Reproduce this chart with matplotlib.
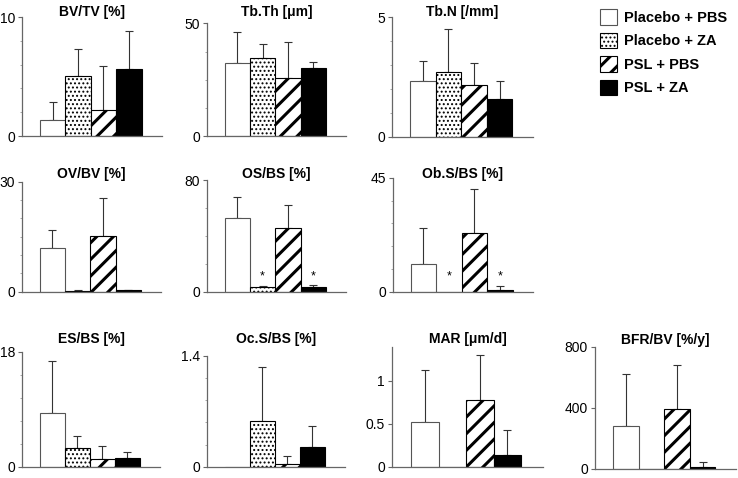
import matplotlib
matplotlib.use('Agg')
import matplotlib.pyplot as plt
import numpy as np
from matplotlib.patches import Patch

plt.rcParams['font.family'] = ['Liberation Sans', 'DejaVu Sans']
plt.rcParams['hatch.linewidth'] = 2.2
plt.rcParams['hatch.color'] = 'black'

# ---------------- data ----------------
groups = ['Placebo + PBS', 'Placebo + ZA', 'PSL + PBS', 'PSL + ZA']

titles = ['BV/TV [%]', 'Tb.Th [\u03bcm]', 'Tb.N [/mm]',
          'OV/BV [%]', 'OS/BS [%]', 'Ob.S/BS [%]',
          'ES/BS [%]', 'Oc.S/BS [%]', 'MAR [\u03bcm/d]', 'BFR/BV [%/y]']

bv_tv = [1.32, 5.04, 2.16, 5.60]
bv_tv_sd = [1.56, 2.24, 3.70, 3.25]
tb_th = [32.4, 34.8, 25.9, 30.1]
tb_th_sd = [13.9, 5.9, 16.0, 2.6]
tb_n = [2.33, 2.73, 2.19, 1.60]
tb_n_sd = [0.85, 1.77, 0.89, 0.73]
ov_bv = [12.0, 0.3, 15.1, 0.4]
ov_bv_sd = [4.9, 0.1, 10.5, 0.2]
os_bs = [53.0, 3.1, 45.4, 3.6]
os_bs_sd = [15.1, 1.2, 16.5, 1.4]
ob_s_bs = [11.05, 0.0, 23.3, 0.66]
ob_s_bs_sd = [13.95, np.nan, 17.2, 1.5]
es_bs = [8.35, 2.87, 1.20, 1.40]
es_bs_sd = [8.25, 2.00, 2.10, 0.90]
oc_s_bs = [0.0, 0.58, 0.04, 0.25]
oc_s_bs_sd = [np.nan, 0.68, 0.09, 0.26]
mar = [0.52, 0.0, 0.78, 0.14]
mar_sd = [0.61, np.nan, 0.52, 0.29]
bfr_bv = [279, 0, 392, 15]
bfr_bv_sd = [340, np.nan, 290, 33]

ylims = [10, 50, 5, 30, 80, 45, 18, 1.4, 1.4, 800]
yticks = [[0, 10], [0, 50], [0, 5], [0, 30], [0, 80], [0, 45],
          [0, 18], [0, 1.4], [0, 0.5, 1], [0, 400, 800]]
yticklabels = [['0', '10'], ['0', '50'], ['0', '5'], ['0', '30'], ['0', '80'],
               ['0', '45'], ['0', '18'], ['0', '1.4'], ['0', '0.5', '1'],
               ['0', '400', '800']]
yminor = [[2, 4, 6, 8], [12.5, 25, 37.5], [1, 2, 3, 4], [5, 10, 15, 20, 25],
          [20, 40, 60], [9, 18, 27, 36], [3.6, 7.2, 10.8, 14.4],
          [0.28, 0.56, 0.84, 1.12], [], []]
# significance markers (group indices)
sig = {4: [1, 3], 5: [1, 3]}

means = [bv_tv, tb_th, tb_n, ov_bv, os_bs, ob_s_bs, es_bs, oc_s_bs, mar, bfr_bv]
sds = [bv_tv_sd, tb_th_sd, tb_n_sd, ov_bv_sd, os_bs_sd, ob_s_bs_sd,
       es_bs_sd, oc_s_bs_sd, mar_sd, bfr_bv_sd]

# ---------------- layout (pixels) ----------------
W, H = 738, 478
rects = [(22, 17, 162, 136), (207, 23.3, 346, 136.3), (392, 17.3, 533, 137),
         (22, 181.7, 161, 291.7), (207, 180, 346, 291.7), (392.7, 177.7, 533, 291.7),
         (22, 351.7, 160, 466.7), (207, 355.7, 345, 466.7), (392, 346.7, 543, 466.7),
         (595, 346.7, 736, 469)]
title_base = [15.7, 15.7, 15.7, 178.3, 178.3, 178.3, 343, 343, 343, 344]

styles = [dict(facecolor='white', edgecolor='#555555', hatch=None, hlw=2.2),
          dict(facecolor='white', edgecolor='black', hatch='....', hlw=0.9),
          dict(facecolor='white', edgecolor='black', hatch='//', hlw=2.2),
          dict(facecolor='black', edgecolor='black', hatch=None, hlw=2.2)]

fig = plt.figure(figsize=(W / 100, H / 100), dpi=100)
spine_c = '#666666'


def set_hlw(p, v):
    if hasattr(p, 'set_hatch_linewidth'):
        p.set_hatch_linewidth(v)
    else:
        p._hatch_linewidth = v


for k in range(10):
    l, t, r, b = rects[k]
    ax = fig.add_axes([l / W, 1 - b / H, (r - l) / W, (b - t) / H])
    x = np.arange(len(groups))
    m = np.array(means[k], dtype=float)
    e = np.array(sds[k], dtype=float)
    for i, st in enumerate(styles):
        with plt.rc_context({'hatch.linewidth': st['hlw']}):
            ax.bar(x[i], m[i], width=1.0, facecolor=st['facecolor'],
                   edgecolor=st['edgecolor'], hatch=st['hatch'], linewidth=0.8,
                   zorder=2)
    ok = ~np.isnan(e)
    ax.errorbar(x[ok], m[ok], yerr=[np.zeros(ok.sum()), e[ok]], fmt='none',
                ecolor='#333333', elinewidth=0.8, capsize=2.6, capthick=0.8,
                zorder=1)
    if k in sig:
        for i in sig[k]:
            ax.annotate('*', xy=(x[i], 0), xytext=(0, 8.5), textcoords='offset points',
                        ha='center', va='baseline', fontsize=9)
    ax.set_xlim(-1.2, 4.3)
    ax.set_ylim(0, ylims[k])
    ax.set_xticks([])
    ax.set_yticks(yticks[k])
    ax.set_yticklabels(yticklabels[k])
    ax.set_yticks(yminor[k], minor=True)
    for s in ['top', 'right']:
        ax.spines[s].set_visible(False)
    for s in ['left', 'bottom']:
        ax.spines[s].set_color(spine_c)
        ax.spines[s].set_linewidth(0.9)
    ax.tick_params(axis='y', which='major', direction='out', length=3, width=0.8,
                   color=spine_c, labelsize=10, pad=2)
    ax.tick_params(axis='y', which='minor', direction='out', length=1.5, width=0.6,
                   color='#999999')
    fig.text((l + r) / 2 / W, 1 - title_base[k] / H, titles[k], ha='center',
             va='baseline', fontsize=10, fontweight='bold')

handles = [Patch(facecolor=st['facecolor'], edgecolor=st['edgecolor'],
                 hatch=st['hatch'], linewidth=0.8) for st in styles]
leg = fig.legend(handles=handles, labels=groups, loc='upper left',
                 bbox_to_anchor=(600 / W, 1 - 9.3 / H), frameon=False, borderpad=0,
                 borderaxespad=0, handlelength=1.17, handleheight=1.23,
                 handletextpad=0.45, labelspacing=0.55,
                 prop={'weight': 'bold', 'size': 10.5})
for p, st in zip(leg.get_patches(), styles):
    set_hlw(p, st['hlw'])

fig.savefig('out.png', dpi=100)
